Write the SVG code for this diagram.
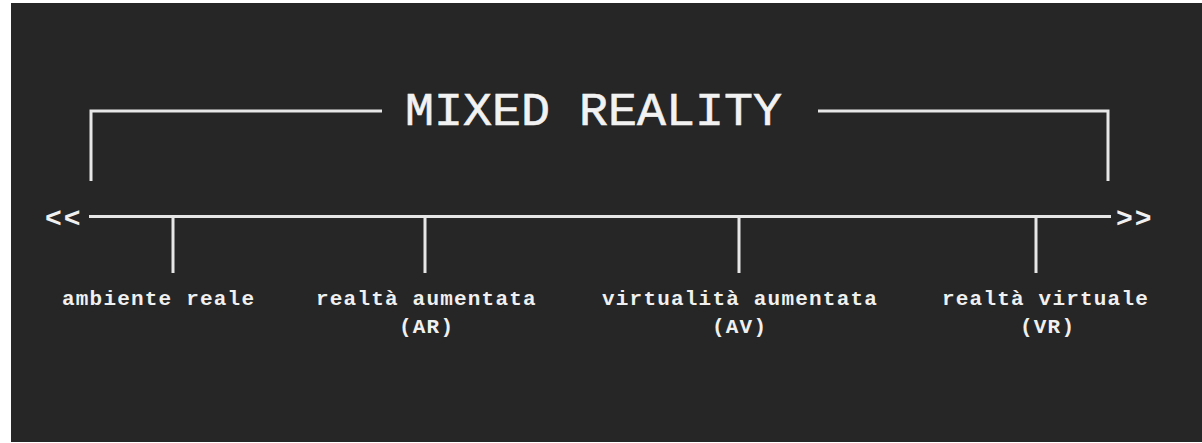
<svg xmlns="http://www.w3.org/2000/svg" width="1202" height="443" viewBox="0 0 1202 443">
<style>
.ln{stroke:#e6e6e6;stroke-width:3;fill:none}
.lbl{font-family:"Liberation Mono",monospace;font-weight:bold;font-size:21px;letter-spacing:1.2px;fill:#f0f0f0}
.ttl{font-family:"Liberation Mono",monospace;font-size:46px;fill:#f2f2f2;stroke:#f2f2f2;stroke-width:0.6}
.chev{font-family:"Liberation Mono",monospace;font-weight:bold;font-size:28px;letter-spacing:2px;fill:#f0f0f0}
</style>
<rect x="0" y="0" width="1202" height="443" fill="#ffffff"/>
<rect x="11" y="3" width="1191" height="439" fill="#262626"/>
<g id="connectors">
<path class="ln" d="M91 181 V111 H382"/>
<path class="ln" d="M818 111 H1108 V181"/>
<line class="ln" x1="89" y1="216.5" x2="1111" y2="216.5"/>
<line class="ln" x1="173" y1="216" x2="173" y2="273"/>
<line class="ln" x1="425" y1="216" x2="425" y2="273"/>
<line class="ln" x1="739" y1="216" x2="739" y2="273"/>
<line class="ln" x1="1036" y1="216" x2="1036" y2="273"/>
</g>
<g id="title"><text class="ttl" x="405" y="125" textLength="377" lengthAdjust="spacingAndGlyphs">MIXED REALITY</text></g>
<g id="arrow-left"><text class="chev" x="45" y="227">&lt;&lt;</text></g>
<g id="arrow-right"><text class="chev" x="1116" y="227">&gt;&gt;</text></g>
<g id="node-ambiente"><text class="lbl" x="62" y="305">ambiente reale</text></g>
<g id="node-ar"><text class="lbl" x="316" y="305">realtà aumentata</text><text class="lbl" x="399" y="333">(AR)</text></g>
<g id="node-av"><text class="lbl" x="602" y="305">virtualità aumentata</text><text class="lbl" x="712" y="333">(AV)</text></g>
<g id="node-vr"><text class="lbl" x="942" y="305">realtà virtuale</text><text class="lbl" x="1020" y="333">(VR)</text></g>
</svg>
